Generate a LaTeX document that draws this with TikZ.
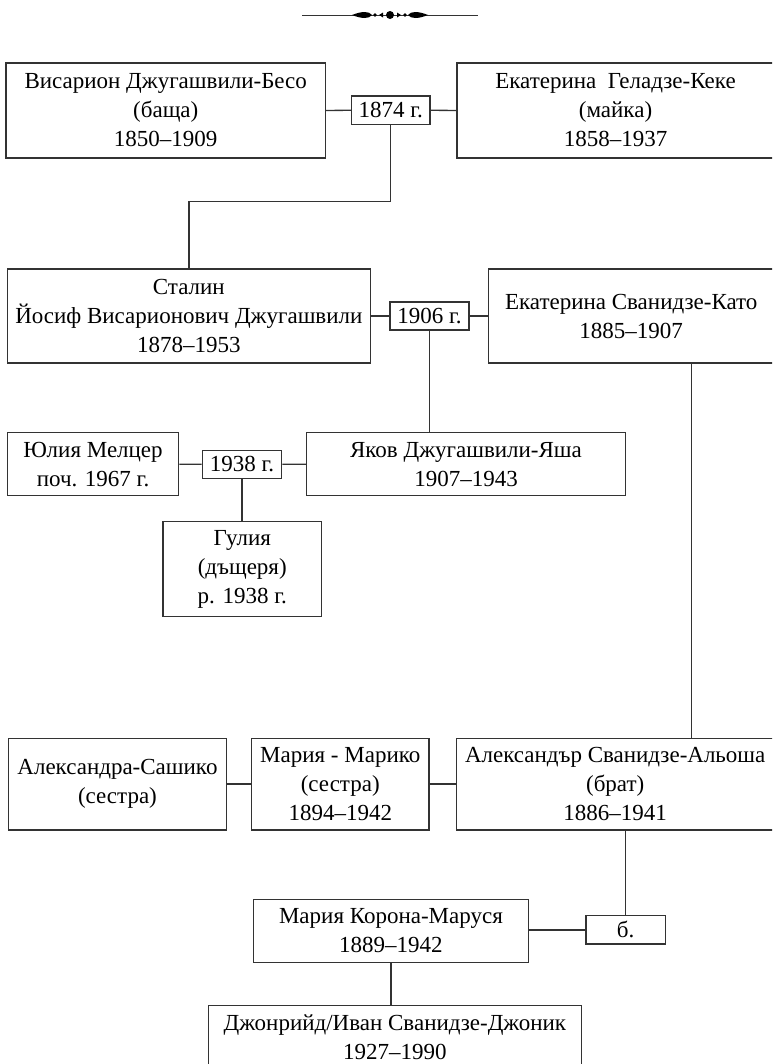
\documentclass[tikz,border=0pt]{standalone}
\usepackage{fontspec}
\setmainfont{Liberation Serif}
\usetikzlibrary{calc,positioning}
\tikzset{
  person/.style={draw=black!80, line width=1pt, align=center, inner sep=0pt,
    font=\fontsize{17.25}{21.75}\selectfont},
  link/.style={draw=black!80, line width=1pt},
}
% box from its corners: name, x1, y1, x2, y2, text
\newcommand{\kutia}[6]
	{
	\node[person, minimum width={(#4-#2)*0.75pt}, minimum height={(#5-#3)*0.75pt}]
	  (#1) at ({(#2+#4)/2},{(#3+#5)/2}) {#6};
	}

\begin{document}
\begin{tikzpicture}[x=0.75pt,y=-0.75pt]
\useasboundingbox (0,0) rectangle (772,1064);
\clip (0,0) rectangle (772,1064);

% ornament
\draw[black!80, line width=0.5pt] (302,15) -- (478,15);
\fill (390,15) circle (4);
\fill (375,15) circle (1.8);
\fill (405,15) circle (1.8);
\fill (352,15) .. controls (362,11) and (369,11) .. (372,15) .. controls (369,19) and (362,19) .. (352,15);
\fill (428,15) .. controls (418,11) and (411,11) .. (408,15) .. controls (411,19) and (418,19) .. (428,15);
\fill (379,15) -- (383,12.5) -- (383,17.5) -- cycle;
\fill (401,15) -- (397,12.5) -- (397,17.5) -- cycle;

% parents
\kutia{beso}{6}{63}{325.5}{158}{Висарион Джугашвили-Бесо\\(баща)\\1850–1909}
\kutia{keke}{457}{63}{774}{158}{Екатерина\ \ Геладзе-Кеке\\(майка)\\1858–1937}
\kutia{m1874}{351.5}{96}{430}{124.5}{1874 г.}

% Stalin and first wife
\kutia{stalin}{7.4}{269}{370.3}{363}{Сталин\\Йосиф Висарионович Джугашвили\\1878–1953}
\kutia{kato}{488.4}{269}{774}{363}{Екатерина Сванидзе-Като\\1885–1907}
\kutia{m1906}{390}{302}{469}{330}{1906 г.}

% Yakov
\kutia{yulia}{7.4}{432.7}{178.7}{495.7}{Юлия Мелцер\\поч. 1967 г.}
\kutia{m1938}{202.4}{450.3}{281.6}{478.3}{1938 г.}
\kutia{yakov}{306.7}{432.7}{625.3}{495.7}{Яков Джугашвили-Яша\\1907–1943}
\kutia{gulia}{163}{521.7}{321.5}{616.7}{Гулия\\(дъщеря)\\р. 1938 г.}

% Svanidze siblings
\kutia{sashiko}{8.4}{738.3}{226.5}{830}{Александра-Сашико\\(сестра)}
\kutia{mariko}{251.6}{738.3}{428.9}{830}{Мария - Марико\\(сестра)\\1894–1942}
\kutia{alyosha}{456.4}{738.3}{774}{830}{Александър Сванидзе-Альоша\\(брат)\\1886–1941}

% Alyosha's family
\kutia{korona}{253.6}{899.3}{528.3}{962.3}{Мария Корона-Маруся\\1889–1942}
\kutia{b}{586}{915.7}{665.2}{944}{б.}
\kutia{jonik}{208.3}{1005.7}{581.5}{1068}{Джонрийд/Иван Сванидзе-Джоник\\1927–1990}

\coordinate (drop) at (691.3,0);

% connectors
\draw[link] (beso.east) -- (m1874.west);
\draw[link] (m1874.east) -- (keke.west);
\draw[link] (m1874.south) -- ++(0,76) -| (stalin.north);
\draw[link] (stalin.east) -- (m1906.west);
\draw[link] (m1906.east) -- (kato.west);
\draw[link] (m1906.south) -- (m1906.south |- yakov.north);
\draw[link] (yulia.east) -- (m1938.west);
\draw[link] (m1938.east) -- (yakov.west);
\draw[link] (m1938.south) -- (m1938.south |- gulia.north);
\draw[link] (kato.south -| drop) -- (alyosha.north -| drop);
\draw[link] (sashiko.east) -- (mariko.west);
\draw[link] (mariko.east) -- (alyosha.west);
\draw[link] (b.north) -- (b.north |- alyosha.south);
\draw[link] (b.west) -- (korona.east |- b.west);
\draw[link] (korona.south) -- (korona.south |- jonik.north);

\end{tikzpicture}
\end{document}
